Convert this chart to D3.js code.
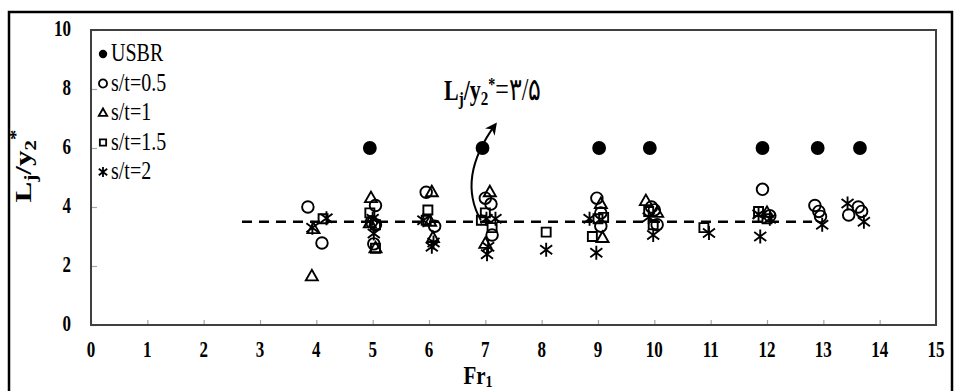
<!DOCTYPE html>
<html>
<head>
<meta charset="utf-8">
<script src="https://cdn.jsdelivr.net/npm/d3@7"></script>
<style>
  body { margin: 0; background: #fff; }
  svg { display: block; font-family: "Liberation Serif", "Times New Roman", serif; }
</style>
</head>
<body>
<svg id="chart" width="954" height="391"></svg>
<script>
// data: [Fr1, Lj/y2*]
const usbr = [[4.95, 6], [6.95, 6], [9.02, 6], [9.92, 6], [11.92, 6], [12.9, 6], [13.65, 6]];
const st05 = [[3.85, 4.0], [4.1, 2.78], [5.05, 4.05], [4.98, 3.5], [5.05, 3.4], [5.02, 2.75],
  [5.95, 4.5], [6.1, 3.35], [7.0, 4.3], [7.1, 4.1], [7.12, 3.05], [8.98, 4.3], [9.05, 3.8],
  [9.05, 3.35], [9.95, 4.0], [10.05, 3.4], [10.0, 3.9], [11.92, 4.6], [12.05, 3.7],
  [12.85, 4.05], [12.92, 3.85], [12.95, 3.68], [13.62, 4.0], [13.45, 3.73], [13.68, 3.85]];
const st1 = [[3.92, 1.65], [3.95, 3.25], [4.97, 4.3], [4.95, 3.45], [5.05, 2.6], [6.05, 4.5],
  [6.02, 3.5], [6.07, 2.95], [7.08, 4.5], [7.0, 2.75], [9.05, 4.1], [9.08, 2.95], [9.85, 4.2],
  [10.05, 3.8], [12.0, 3.8]];
const st15 = [[4.12, 3.6], [4.95, 3.8], [5.05, 3.4], [5.05, 2.6], [5.98, 3.9], [5.95, 3.55],
  [7.0, 3.8], [6.93, 3.55], [7.12, 3.3], [8.08, 3.15], [9.1, 3.65], [8.9, 3.0], [9.0, 3.6],
  [9.9, 3.85], [9.98, 3.4], [10.88, 3.3], [11.85, 3.85], [12.0, 3.6]];
const st2 = [[3.93, 3.3], [4.18, 3.62], [5.0, 3.6], [5.02, 3.1], [5.9, 3.55], [6.05, 2.65],
  [6.08, 2.8], [7.02, 3.6], [7.18, 3.6], [7.05, 2.65], [7.03, 2.4], [8.08, 2.55], [8.85, 3.6],
  [8.97, 2.45], [9.9, 3.65], [9.98, 3.05], [10.97, 3.12], [11.85, 3.75], [11.88, 3.0],
  [12.05, 3.6], [12.98, 3.4], [13.43, 4.12], [13.72, 3.5]];
const meanLine = {from: 2.68, to: 12.8, value: 3.5};
const xTicks = d3.range(0, 16);
const yTicks = [0, 2, 4, 6, 8, 10];
const legendNames = ['USBR', 's/t=0.5', 's/t=1', 's/t=1.5', 's/t=2'];

const svg = d3.select('#chart');
const x = d3.scaleLinear().domain([0, 15]).range([91, 936]);
const y = d3.scaleLinear().domain([0, 10]).range([325, 30]);
// the source figure is stretched vertically, so text is drawn taller than wide
const SY = 1.3;
const at = (px, py, sy = SY) => 'translate(' + px + ',' + py + ') scale(1,' + sy + ')';

// outer frame
svg.append('rect')
  .attr('x', 9).attr('y', 12).attr('width', 943).attr('height', 392)
  .attr('fill', 'none').attr('stroke', '#000').attr('stroke-width', 2.5);

// axes, ticks inside
const xAxis = svg.append('g')
  .attr('transform', 'translate(0,' + y(0) + ')')
  .call(d3.axisTop(x).tickValues(xTicks).tickSize(5).tickFormat(''));
const yAxis = svg.append('g')
  .attr('transform', 'translate(' + x(0) + ',0)')
  .call(d3.axisRight(y).tickValues(yTicks).tickSize(6).tickFormat(''));
[xAxis, yAxis].forEach(g => {
  g.select('.domain').remove();
  g.selectAll('.tick line').attr('stroke', '#a6a6a6').attr('stroke-width', 1.2);
});

svg.append('rect')
  .attr('x', x(0)).attr('y', y(10))
  .attr('width', x(15) - x(0)).attr('height', y(0) - y(10))
  .attr('fill', 'none').attr('stroke', '#404040').attr('stroke-width', 2);

svg.append('g').selectAll('text')
  .data(xTicks).enter().append('text')
  .attr('transform', d => at(x(d), 357))
  .attr('text-anchor', 'middle')
  .style('font-size', '17px').style('font-weight', 'bold')
  .text(d => d);

svg.append('g').selectAll('text')
  .data(yTicks).enter().append('text')
  .attr('transform', d => at(71, y(d) + 6))
  .attr('text-anchor', 'end')
  .style('font-size', '17px').style('font-weight', 'bold')
  .text(d => d);

// axis titles
const xt = svg.append('text')
  .attr('transform', at(478, 384, 1.15))
  .attr('text-anchor', 'middle')
  .style('font-size', '21px').style('font-weight', 'bold');
xt.append('tspan').text('Fr');
xt.append('tspan').attr('dy', 3).style('font-size', '14px').text('1');

const yt = svg.append('text')
  .attr('transform', 'translate(31,166) scale(1,' + SY + ') rotate(-90)')
  .attr('text-anchor', 'middle')
  .style('font-size', '24px').style('font-weight', 'bold');
yt.append('tspan').text('L');
yt.append('tspan').attr('dy', 5).style('font-size', '16px').text('j');
yt.append('tspan').attr('dy', -5).text('/y');
yt.append('tspan').attr('dy', 5).style('font-size', '16px').text('2');
yt.append('tspan').attr('dy', -15).style('font-size', '16px').text('*');

// mean line
svg.append('line')
  .attr('x1', x(meanLine.from)).attr('x2', x(meanLine.to))
  .attr('y1', y(meanLine.value)).attr('y2', y(meanLine.value))
  .attr('stroke', '#000').attr('stroke-width', 2.5)
  .attr('stroke-dasharray', '10,7');

// marker shapes
const circ = d3.symbol().type(d3.symbolCircle).size(105)();
const tri = 'M0,-6.5L6,4L-6,4Z';
const sq = 'M-4.5,-4.5H4.5V4.5H-4.5Z';
const star = 'M0,-7V7M-6,-4.5L6,4.5M-6,4.5L6,-4.5';

const series = [
  {data: usbr, path: d3.symbol().type(d3.symbolCircle).size(150)(), fill: '#000'},
  {data: st05, path: circ, fill: 'none'},
  {data: st1, path: tri, fill: 'none'},
  {data: st15, path: sq, fill: 'none'},
  {data: st2, path: star, fill: 'none'}
];

series.forEach(s => {
  svg.append('g').selectAll('path')
    .data(s.data).enter().append('path')
    .attr('transform', d => 'translate(' + x(d[0]) + ',' + y(d[1]) + ')')
    .attr('d', s.path)
    .attr('fill', s.fill)
    .attr('stroke', '#000')
    .attr('stroke-width', s.fill === 'none' ? 1.9 : 0);
});

// legend
const legend = svg.append('g');
legendNames.forEach((name, i) => {
  const ly = 54 + 29.5 * i;
  const s = series[i];
  const p = i === 0 ? d3.symbol().type(d3.symbolCircle).size(55)() : s.path;
  legend.append('path')
    .attr('transform', 'translate(103,' + ly + ') scale(' + (i === 0 ? 1 : 0.7) + ')')
    .attr('d', p)
    .attr('fill', s.fill).attr('stroke', '#000')
    .attr('stroke-width', i === 0 ? 0 : 2.6);
  legend.append('text')
    .attr('transform', at(111, ly + 7))
    .style('font-size', '20px')
    .text(name);
});

// annotation
const ann = svg.append('text')
  .attr('transform', at(444, 100))
  .style('font-size', '22px').style('font-weight', 'bold');
ann.append('tspan').text('L');
ann.append('tspan').attr('dy', 4).style('font-size', '15px').text('j');
ann.append('tspan').attr('dy', -4).text('/y');
ann.append('tspan').attr('dy', 4).style('font-size', '15px').text('2');
ann.append('tspan').attr('dy', -11).style('font-size', '14px').text('*');
ann.append('tspan').attr('dy', 7).style('font-weight', 'normal').style('font-size', '24px').text('=۳/۵');

svg.append('defs').append('marker')
  .attr('id', 'head').attr('viewBox', '0 0 10 10')
  .attr('refX', 8).attr('refY', 5)
  .attr('markerWidth', 6).attr('markerHeight', 6)
  .attr('orient', 'auto')
  .append('path').attr('d', 'M0,0L10,5L0,10L3,5Z').attr('fill', '#000');

const p0 = [x(6.92), y(3.55)], c = [x(6.49), y(5.0)], p1 = [x(7.18), y(6.8)];
svg.append('path')
  .attr('d', 'M' + p0 + 'Q' + c + ' ' + p1)
  .attr('fill', 'none').attr('stroke', '#000').attr('stroke-width', 2)
  .attr('marker-end', 'url(#head)');
</script>
</body>
</html>
